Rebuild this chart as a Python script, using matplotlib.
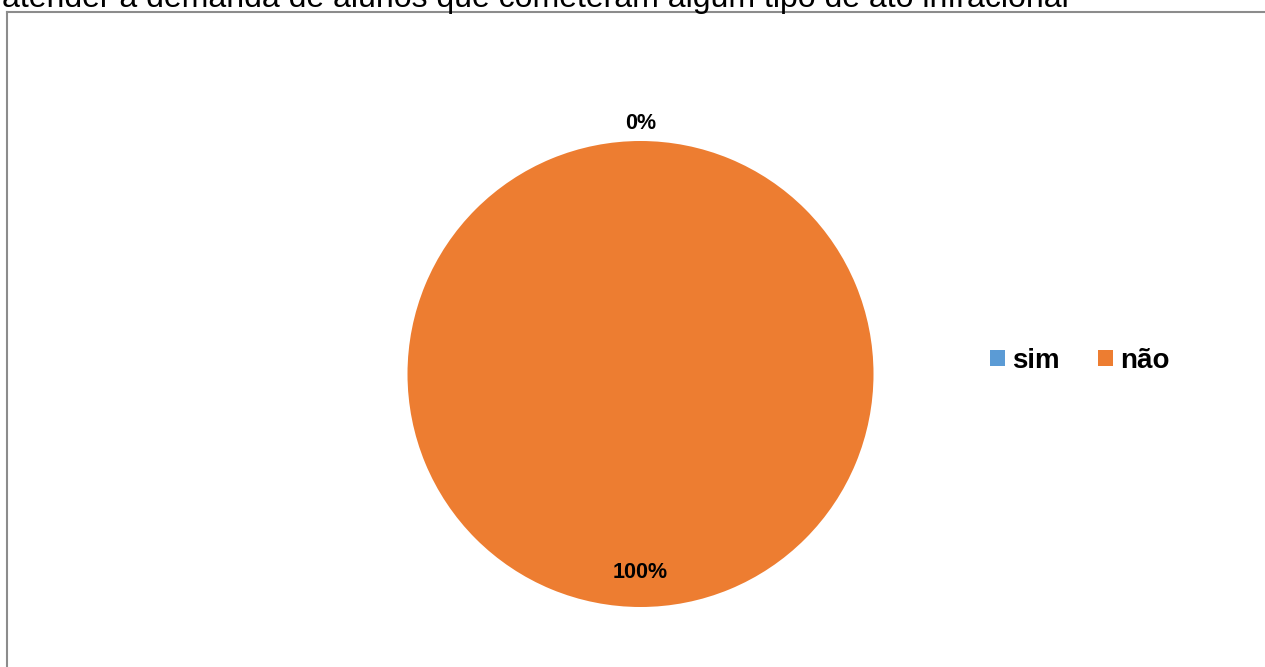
import numpy as np
import matplotlib.pyplot as plt
from matplotlib.lines import Line2D
from matplotlib.patches import Patch

# Survey answers
categories = ["sim", "não"]
values = [0, 100]
colors = ["#5B9BD5", "#ED7D31"]
title = "atender a demanda de alunos que cometeram algum tipo de ato infracional"

W, H = 1265, 667
fig = plt.figure(figsize=(W / 100, H / 100), dpi=100)
fig.patch.set_facecolor("white")

# Heading line (partly cut by the top edge)
fig.text(2 / W, 1 - 7 / H, title, fontsize=23, family=["Liberation Sans", "DejaVu Sans"],
         color="#000000", va="baseline", ha="left")

# Chart frame
frame_col = "#8C8C8C"
fig.add_artist(Line2D([7 / W, 1.0], [1 - 12 / H, 1 - 12 / H], transform=fig.transFigure,
                      color=frame_col, lw=1.5))
fig.add_artist(Line2D([7 / W, 7 / W], [0, 1 - 12 / H], transform=fig.transFigure,
                      color=frame_col, lw=1.5))

# Pie area
cx, cy, r = 640.5, 374, 233
ax = fig.add_axes([(cx - r) / W, 1 - (cy + r) / H, 2 * r / W, 2 * r / H])
wedges, _ = ax.pie(values, colors=colors, startangle=90, counterclock=False, radius=1,
                   wedgeprops=dict(linewidth=0))
ax.set_xlim(-1, 1)
ax.set_ylim(-1, 1)
ax.set_aspect("equal")
ax.axis("off")

total = float(sum(values))
for w, v in zip(wedges, values):
    pct = 100 * v / total
    mid = np.deg2rad((w.theta1 + w.theta2) / 2)
    rad = 1.077 if pct < 5 else 0.85
    ax.text(rad * np.cos(mid), rad * np.sin(mid), f"{pct:.0f}%", ha="center", va="center",
            fontsize=15.5, fontweight="bold", family=["Liberation Sans", "DejaVu Sans"],
            color="#000000", clip_on=False)

# Legend
handles = [Patch(facecolor=c, edgecolor="none") for c in colors]
fig.legend(handles, categories, loc="center left", bbox_to_anchor=(990 / W, 1 - 361 / H),
           ncol=2, frameon=False, prop=dict(family="Liberation Sans", weight="bold", size=20),
           handlelength=0.54, handleheight=0.54, handletextpad=0.25, columnspacing=1.4,
           borderpad=0, borderaxespad=0)

fig.savefig("out.png", dpi=100, facecolor="white")
